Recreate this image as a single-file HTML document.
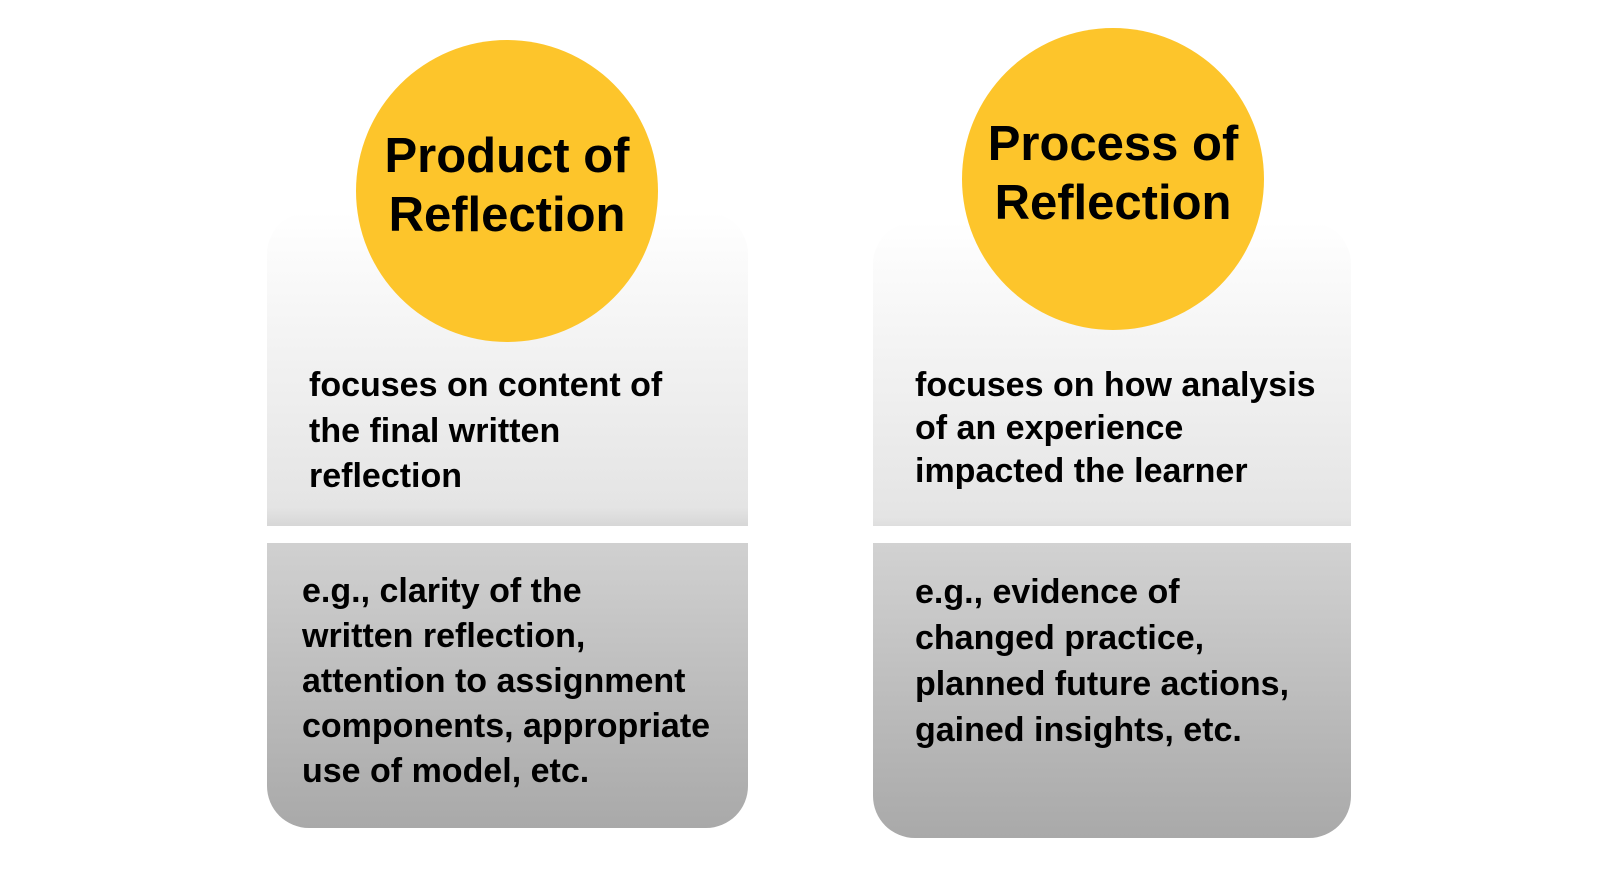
<!DOCTYPE html>
<html><head><style>
body{margin:0;width:1615px;height:876px;background:#fff;position:relative;overflow:hidden;font-family:"Liberation Sans",sans-serif;}
.card{position:absolute;border-radius:42px;overflow:hidden;background:linear-gradient(#ffffff 0%,#e4e4e4 48%,#d2d2d2 52%,#a9a9a9 100%);}
.band{position:absolute;left:0;right:0;background:#fff;height:17px;}
.circle{position:absolute;border-radius:50%;background:#fdc52b;}
.t{position:absolute;font-weight:bold;color:#000;white-space:nowrap;}
.title{font-size:49px;line-height:59px;text-align:center;width:320px;}
.body{font-size:34px;}
</style></head><body>
<div class="card" style="left:267px;top:212px;width:481px;height:616px;"><div class="band" style="top:314px"></div></div>
<div class="card" style="left:873px;top:222px;width:478px;height:616px;"><div class="band" style="top:304px"></div></div>
<div class="circle" style="left:356px;top:40px;width:302px;height:302px;"></div>
<div class="circle" style="left:962px;top:28px;width:302px;height:302px;"></div>
<div class="t title" style="left:347px;top:127px;">Product of<br>Reflection</div>
<div class="t title" style="left:953px;top:115px;">Process of<br>Reflection</div>
<div class="t body" style="left:309px;top:363px;line-height:45.5px;">focuses on content of<br>the final written<br>reflection</div>
<div class="t body" style="left:302px;top:569px;line-height:45px;">e.g., clarity of the<br>written reflection,<br>attention to assignment<br>components, appropriate<br>use of model, etc.</div>
<div class="t body" style="left:915px;top:364px;line-height:43px;">focuses on how analysis<br>of an experience<br>impacted the learner</div>
<div class="t body" style="left:915px;top:569px;line-height:46px;">e.g., evidence of<br>changed practice,<br>planned future actions,<br>gained insights, etc.</div>
</body></html>
